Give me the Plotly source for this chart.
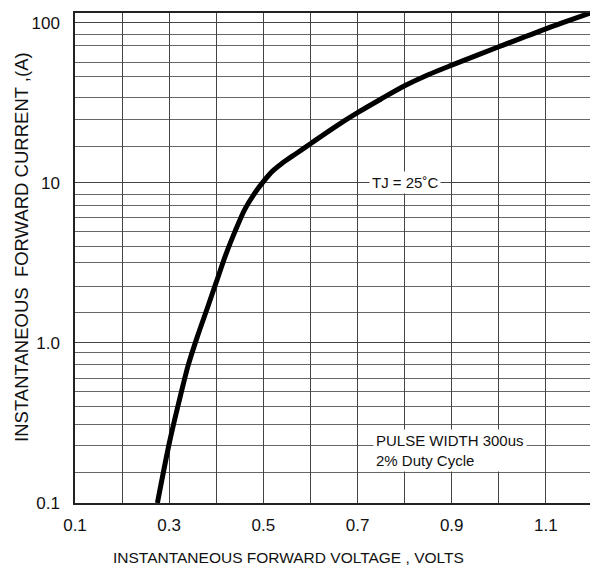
import plotly.graph_objects as go
import numpy as np

# Curve data (forward voltage V, forward current A)
voltage = [0.275, 0.30, 0.32, 0.34, 0.36, 0.38, 0.40, 0.42, 0.44, 0.46,
           0.48, 0.50, 0.52, 0.54, 0.57, 0.60, 0.65, 0.70, 0.75, 0.80,
           0.85, 0.90, 1.00, 1.10, 1.20]
current = [0.10, 0.235, 0.42, 0.72, 1.10, 1.62, 2.40, 3.55, 5.0, 6.8,
           8.5, 10.2, 11.9, 13.3, 15.3, 17.6, 22.2, 27.5, 33.5, 40.5,
           47.5, 54.5, 71.0, 92.0, 117.0]

# Axis ticks
x_tickvals = [0.1, 0.2, 0.3, 0.4, 0.5, 0.6, 0.7, 0.8, 0.9, 1.0, 1.1, 1.2]
x_ticktext = ["0.1", "", "0.3", "", "0.5", "", "0.7", "", "0.9", "", "1.1", ""]
y_tickvals = [0.1, 1.0, 10, 100]
y_ticktext = ["0.1", "1.0", "10", "100"]
# Horizontal grid lines as drawn on the chart
y_minor_grid = [0.155, 0.23, 0.31, 0.4, 0.5, 0.6, 0.73, 0.87,
                1.55, 2.25, 3.2, 4.0, 5.0, 6.1, 7.2, 8.5,
                17, 25, 34, 46, 57, 72, 85]

FONT = "Liberation Sans, Arial, sans-serif"

fig = go.Figure()
fig.add_trace(go.Scatter(
    x=voltage, y=current, mode="lines",
    line=dict(color="black", width=5, shape="spline", smoothing=0.8),
    hoverinfo="skip", showlegend=False,
))

# page body has an 8px margin; figure sized to fill the remaining window
fig.update_layout(
    width=590, height=563,
    margin=dict(l=67, r=3, t=4, b=68),
    paper_bgcolor="white", plot_bgcolor="white",
    font=dict(family=FONT, color="black"),
    xaxis=dict(
        range=[0.1, 1.2], tickvals=x_tickvals, ticktext=x_ticktext,
        showgrid=True, gridcolor="#444", gridwidth=1,
        showline=True, linecolor="#222", linewidth=1.5, mirror=True,
        ticks="", tickfont=dict(size=17, family=FONT, color="#111"),
        ticklabelstandoff=6, zeroline=False,
    ),
    yaxis=dict(
        type="log", range=[-1, 2.0624], tickvals=y_tickvals, ticktext=y_ticktext,
        showgrid=True, gridcolor="#444", gridwidth=1,
        showline=True, linecolor="#222", linewidth=1.5, mirror=True,
        ticks="", tickfont=dict(size=17, family=FONT, color="#111"),
        ticklabelstandoff=10, zeroline=False,
        minor=dict(tickvals=y_minor_grid, showgrid=True, gridcolor="#666", gridwidth=1, ticks=""),
    ),
)

fig.add_annotation(
    x=0.8, y=1.0, xref="x", yref="y", text="TJ = 25˚C",
    showarrow=False, bgcolor="white", borderpad=2,
    font=dict(size=15, family=FONT, color="#111"),
    xanchor="center", yanchor="middle",
)
fig.add_annotation(
    x=0.732, y=np.log10(0.214), xref="x", yref="y",
    text="PULSE WIDTH 300us<br>2% Duty Cycle", align="left",
    showarrow=False, bgcolor="white", borderpad=2,
    font=dict(size=15, family=FONT, color="#111"),
    xanchor="left", yanchor="middle",
)
fig.add_annotation(
    x=0.4115, y=-0.112, xref="paper", yref="paper",
    text="INSTANTANEOUS FORWARD VOLTAGE , VOLTS",
    showarrow=False, font=dict(size=15.5, family=FONT, color="#111"),
    xanchor="center", yanchor="middle",
)
fig.add_annotation(
    x=-0.102, y=0.523, xref="paper", yref="paper",
    text="INSTANTANEOUS  FORWARD CURRENT ,(A)", textangle=-90,
    showarrow=False, font=dict(size=18.5, family=FONT, color="#111"),
    xanchor="center", yanchor="middle",
)

fig.write_html("out.html")
